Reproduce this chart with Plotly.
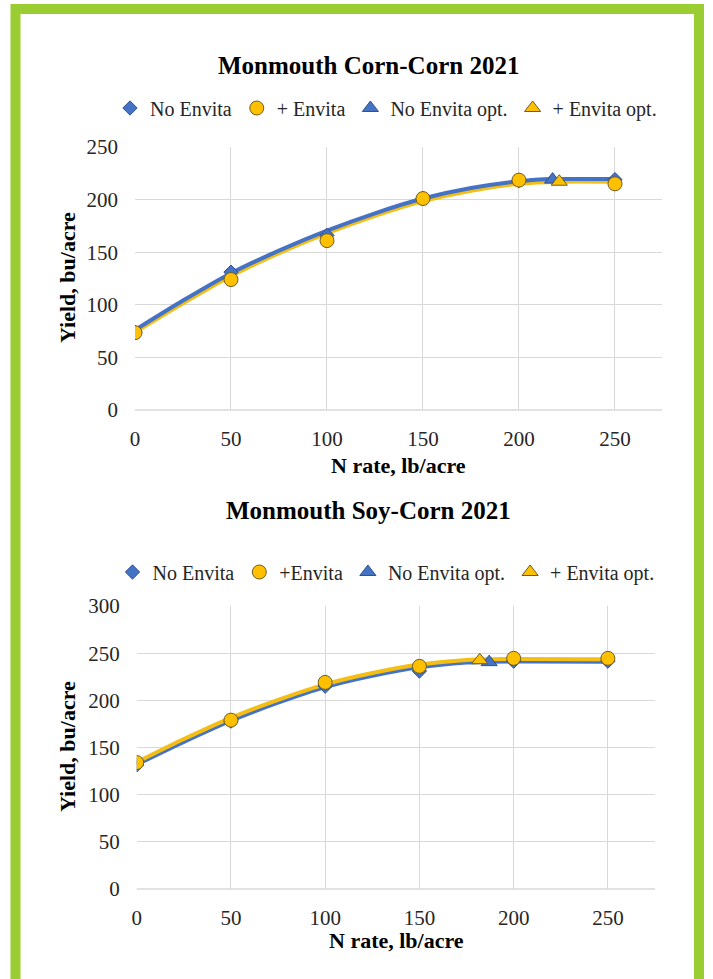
import plotly.graph_objects as go

# ---------------- data ----------------
n_rate = [0, 50, 100, 150, 200, 250]

# Monmouth Corn-Corn 2021
cc_no_envita = [74, 131, 166, 201, 218, 219]
cc_envita = [73.5, 124, 161, 201, 218.5, 215]
cc_opt_no_x, cc_opt_no_y = [217.5], [219]
cc_opt_env_x, cc_opt_env_y = [221], [217]
cc_fit_no_x = [0, 25, 50, 75, 100, 125, 150, 175, 200, 218, 250]
cc_fit_no_y = [76, 104, 130, 151.5, 170.5, 187, 201, 211, 217.5, 219.5, 219.5]
cc_fit_env_x = [0, 25, 50, 75, 100, 125, 150, 175, 200, 221, 250]
cc_fit_env_y = [74, 101.5, 127.5, 149, 168, 184.5, 198.5, 208.5, 215, 217, 217]

# Monmouth Soy-Corn 2021
sc_no_envita = [131.5, 178, 215, 231, 241.5, 241.5]
sc_envita = [134, 179, 219, 236, 244.5, 244.5]
sc_opt_no_x, sc_opt_no_y = [187], [240.5]
sc_opt_env_x, sc_opt_env_y = [182], [242.5]
sc_fit_no_x = [0, 25, 50, 75, 100, 125, 150, 175, 187, 250]
sc_fit_no_y = [132, 156, 178.5, 197.5, 214, 226, 235, 240, 241, 241]
sc_fit_env_x = [0, 25, 50, 75, 100, 125, 150, 170, 182, 250]
sc_fit_env_y = [134.5, 159, 181.5, 200.5, 217, 229, 238, 242, 243.5, 243.5]

titles = ["Monmouth Corn-Corn 2021", "Monmouth Soy-Corn 2021"]
legend_names_top = ["No Envita", "+ Envita", "No Envita opt.", "+ Envita opt."]
legend_names_bot = ["No Envita", "+Envita", "No Envita opt.", "+ Envita opt."]
x_title = "N rate, lb/acre"
y_title = "Yield, bu/acre"

# ---------------- styling ----------------
BLUE = "#4472C4"
BLUE_EDGE = "#2F528F"
GOLD = "#FFC000"
GOLD_LINE = "#F5BE14"
GOLD_EDGE = "#6E5B22"
FONT = "Liberation Serif, Times New Roman, serif"
TXT = "#262626"
GRID = "#D9D9D9"

W, H = 713, 979

fig = go.Figure()


def add_panel(xa, ya, leg, names, pts_no, pts_env, opt_no, opt_env, fit_no, fit_env, blue_on_top):
    lines = [
        (fit_env, GOLD_LINE),
        (fit_no, BLUE),
    ]
    if not blue_on_top:
        lines = lines[::-1]
    for (fx, fy), col in lines:
        fig.add_trace(go.Scatter(x=fx, y=fy, mode="lines", xaxis=xa, yaxis=ya,
                                 line=dict(color=col, width=4, shape="spline", smoothing=0.6),
                                 showlegend=False, hoverinfo="skip"))
    fig.add_trace(go.Scatter(x=n_rate, y=pts_no, mode="markers", name=names[0], xaxis=xa, yaxis=ya,
                             legend=leg,
                             marker=dict(symbol="diamond", size=11, color=BLUE,
                                         line=dict(color=BLUE_EDGE, width=1))))
    fig.add_trace(go.Scatter(x=n_rate, y=pts_env, mode="markers", name=names[1], xaxis=xa, yaxis=ya,
                             legend=leg,
                             marker=dict(symbol="circle", size=14, color=GOLD,
                                         line=dict(color=GOLD_EDGE, width=1))))
    fig.add_trace(go.Scatter(x=opt_no[0], y=opt_no[1], mode="markers", name=names[2], xaxis=xa, yaxis=ya,
                             legend=leg,
                             marker=dict(symbol="triangle-up", size=14, color=BLUE,
                                         line=dict(color=BLUE_EDGE, width=1))))
    fig.add_trace(go.Scatter(x=opt_env[0], y=opt_env[1], mode="markers", name=names[3], xaxis=xa, yaxis=ya,
                             legend=leg,
                             marker=dict(symbol="triangle-up", size=14, color=GOLD,
                                         line=dict(color=GOLD_EDGE, width=1))))


add_panel("x", "y", "legend", legend_names_top, cc_no_envita, cc_envita,
          (cc_opt_no_x, cc_opt_no_y), (cc_opt_env_x, cc_opt_env_y),
          (cc_fit_no_x, cc_fit_no_y), (cc_fit_env_x, cc_fit_env_y), True)
add_panel("x2", "y2", "legend2", legend_names_bot, sc_no_envita, sc_envita,
          (sc_opt_no_x, sc_opt_no_y), (sc_opt_env_x, sc_opt_env_y),
          (sc_fit_no_x, sc_fit_no_y), (sc_fit_env_x, sc_fit_env_y), False)


def px_x(p):
    return p / W


def px_y(p):
    return (H - p) / H


tick_font = dict(family=FONT, size=21, color=TXT)
axis_common = dict(showgrid=True, gridcolor=GRID, gridwidth=1, zeroline=False,
                   showline=False, ticks="", tickfont=tick_font, automargin=False, fixedrange=True)

top_plot = dict(l=135, r=662, t=147, b=410)
bot_plot = dict(l=136.7, r=655, t=606, b=889)
legend_font = dict(family=FONT, size=20, color=TXT)

fig.update_layout(
    width=W, height=H,
    margin=dict(l=0, r=0, t=0, b=0),
    paper_bgcolor="white", plot_bgcolor="white",
    font=dict(family=FONT, color=TXT),
    xaxis=dict(domain=[px_x(top_plot["l"]), px_x(top_plot["r"])], anchor="y",
               range=[0, 274.5], tickvals=[0, 50, 100, 150, 200, 250], ticklabelstandoff=14,
               **axis_common),
    yaxis=dict(domain=[px_y(top_plot["b"]), px_y(top_plot["t"])], anchor="x",
               range=[0, 250], tickvals=[0, 50, 100, 150, 200, 250], ticklabelstandoff=16,
               **axis_common),
    xaxis2=dict(domain=[px_x(bot_plot["l"]), px_x(bot_plot["r"])], anchor="y2",
                range=[0, 275], tickvals=[0, 50, 100, 150, 200, 250], ticklabelstandoff=14,
                **axis_common),
    yaxis2=dict(domain=[px_y(bot_plot["b"]), px_y(bot_plot["t"])], anchor="x2",
                range=[0, 300], tickvals=[0, 50, 100, 150, 200, 250, 300], ticklabelstandoff=16,
                **axis_common),
    legend=dict(orientation="h", x=px_x(386), xanchor="center", y=px_y(108), yanchor="middle",
                font=legend_font, itemwidth=30,
                bgcolor="rgba(0,0,0,0)", itemclick=False, itemdoubleclick=False),
    legend2=dict(orientation="h", x=px_x(386), xanchor="center", y=px_y(572), yanchor="middle",
                 font=legend_font, itemwidth=30,
                 bgcolor="rgba(0,0,0,0)", itemclick=False, itemdoubleclick=False),
    showlegend=True,
)

# x-axis baseline
for xa, ya in (("x", "y"), ("x2", "y2")):
    fig.add_shape(type="line", xref=xa + " domain", yref=ya + " domain", x0=0, x1=1, y0=0, y1=0,
                  line=dict(color=GRID, width=1.5))

annos = [
    (368, 65, titles[0], 25, 0),
    (368, 510, titles[1], 25, 0),
    (398, 466, x_title, 22, 0),
    (396, 940, x_title, 22, 0),
    (67, 278, y_title, 22, -90),
    (67, 747, y_title, 22, -90),
]
for x, y, t, s, rot in annos:
    fig.add_annotation(x=px_x(x), y=px_y(y), xref="paper", yref="paper", showarrow=False,
                       text=f"<b>{t}</b>", textangle=rot,
                       font=dict(family=FONT, size=s, color="black"),
                       xanchor="center", yanchor="middle")

# green frame
fig.add_shape(type="rect", xref="paper", yref="paper",
              x0=px_x(15.5), x1=px_x(699), y0=-0.1, y1=px_y(9),
              line=dict(color="#9ACD32", width=10), fillcolor="rgba(0,0,0,0)", layer="above")

fig.write_html("out.html", config={"displayModeBar": False},
               post_script="document.body.style.margin='0px';document.body.style.overflow='hidden';")
